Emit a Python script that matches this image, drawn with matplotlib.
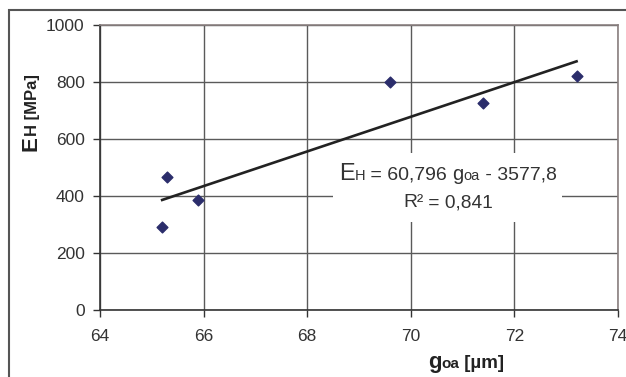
import matplotlib
matplotlib.use("Agg")
import matplotlib.pyplot as plt
from matplotlib.patches import Rectangle
import numpy as np

# Data
g_oa = [65.2, 65.3, 65.9, 69.6, 71.4, 73.2]
E_H = [290, 468, 385, 800, 727, 822]
slope = 60.796
intercept = -3577.8
x_ticks = [64, 66, 68, 70, 72, 74]
y_ticks = [0, 200, 400, 600, 800, 1000]

W, H = 626, 377
FONT = "Liberation Sans"
plt.rcParams['font.family'] = [FONT, 'DejaVu Sans']

fig = plt.figure(figsize=(W / 100, H / 100), dpi=100)
fig.patch.set_facecolor('white')

# outer border (chart area)
fig.patches.append(Rectangle((9 / W, -0.2), 1.2, 1 - 10 / H + 0.2, transform=fig.transFigure,
                             fill=False, edgecolor='#555555', linewidth=1.5, zorder=0))

ax = fig.add_axes([100 / W, 1 - 310 / H, 518 / W, 285 / H])
ax.set_xlim(64, 74)
ax.set_ylim(0, 1000)
ax.set_xticks(x_ticks)
ax.set_yticks(y_ticks)
ax.tick_params(direction='out', length=5, width=1, colors='#333333', labelsize=12.5,
               labelcolor='#333333', pad=6)
ax.tick_params(axis='x', pad=9)
ax.grid(True, color='#5a5a5a', linewidth=1)
ax.set_axisbelow(True)
for s in ['left', 'bottom']:
    ax.spines[s].set_color('#333333')
    ax.spines[s].set_linewidth(1.2)
for s in ['top', 'right']:
    ax.spines[s].set_color('#8a8080')
    ax.spines[s].set_linewidth(1.2)

ax.scatter(g_oa, E_H, marker='D', s=30, color='#2b2d6b', zorder=3)
xl = np.array([min(g_oa), max(g_oa)])
ax.plot(xl, slope * xl + intercept, color='#222222', linewidth=1.9, zorder=2)

# white box behind equation
ax.add_patch(Rectangle((68.5, 310), 4.42, 240, facecolor='white', edgecolor='none', zorder=2.5))

fig.canvas.draw()
renderer = fig.canvas.get_renderer()


def pieces(x, y, parts, rotation=0, color='#333333'):
    for s, size, weight in parts:
        t = fig.text(x / W, 1 - y / H, s, fontsize=size, weight=weight, ha='left', va='baseline',
                     rotation=rotation, rotation_mode='anchor', color=color, zorder=5)
        bb = t.get_window_extent(renderer)
        if rotation == 0:
            x += bb.width
        else:
            y -= bb.height


# equation
pieces(339, 180, [("E", 17, 'normal'), ("H", 10.5, 'normal'), (" = 60,796 ", 14, 'normal'),
                  ("g", 14.5, 'normal'), ("oa", 10.5, 'normal'), (" - 3577,8", 14, 'normal')])
pieces(403, 207, [("R²", 13.8, 'normal'), (" = 0,841", 13.8, 'normal')])

# axis labels
pieces(37, 151, [("E", 16, 'bold'), ("H [MPa]", 12, 'bold')], rotation=90, color='#222222')
pieces(428, 368, [("g", 16, 'bold'), ("oa", 11, 'bold'), (" [µm]", 13.5, 'bold')], color='#222222')

fig.savefig("out.png", dpi=100, facecolor='white')
